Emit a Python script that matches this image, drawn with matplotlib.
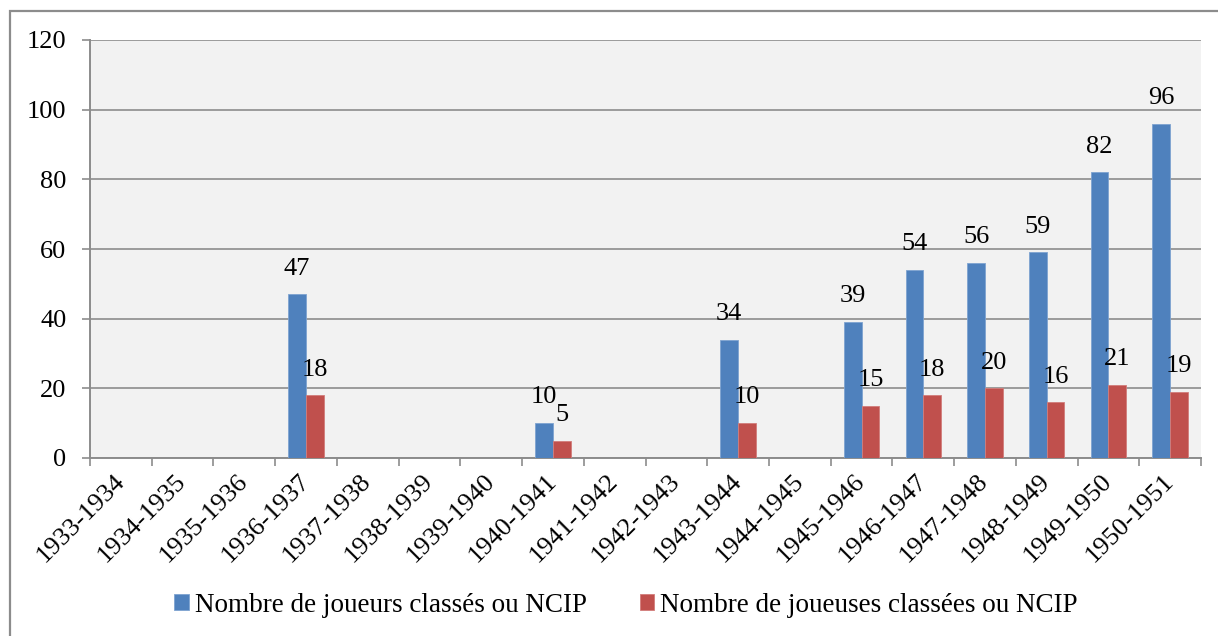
import numpy as np
import matplotlib
matplotlib.use("Agg")
import matplotlib.pyplot as plt
from matplotlib.patches import Rectangle

seasons = ["1933-1934", "1934-1935", "1935-1936", "1936-1937", "1937-1938",
           "1938-1939", "1939-1940", "1940-1941", "1941-1942", "1942-1943",
           "1943-1944", "1944-1945", "1945-1946", "1946-1947", "1947-1948",
           "1948-1949", "1949-1950", "1950-1951"]
joueurs = [np.nan, np.nan, np.nan, 47, np.nan, np.nan, np.nan, 10, np.nan, np.nan,
           34, np.nan, 39, 54, 56, 59, 82, 96]
joueuses = [np.nan, np.nan, np.nan, 18, np.nan, np.nan, np.nan, 5, np.nan, np.nan,
            10, np.nan, 15, 18, 20, 16, 21, 19]
label_joueurs = "Nombre de joueurs classés ou NCIP"
label_joueuses = "Nombre de joueuses classées ou NCIP"
yticks = [0, 20, 40, 60, 80, 100, 120]

plt.rcParams['font.family'] = ['Liberation Serif', 'DejaVu Serif']
W, H = 1218, 636
fig = plt.figure(figsize=(W / 100, H / 100), dpi=100)
fig.patch.set_facecolor('white')

# outer chart border
fig.patches.append(Rectangle((10 / W, -0.05), 1.2, (H - 11) / H + 0.05,
                             transform=fig.transFigure, fill=False,
                             edgecolor='#8c8c8c', linewidth=1.6))

ax = fig.add_axes([90 / W, (H - 458) / H, (1201 - 90) / W, (458 - 40) / H])
ax.set_facecolor('#F2F2F2')

x = np.arange(len(seasons))
bw = 0.287
blue = '#4F81BD'
red = '#C0504D'
b1 = ax.bar(x - bw / 2, joueurs, bw, color=blue, edgecolor='#7ea3d0', linewidth=0.6,
            label=label_joueurs, zorder=3)
b2 = ax.bar(x + bw / 2, joueuses, bw, color=red, edgecolor='#d27d7b', linewidth=0.6,
            label=label_joueuses, zorder=3)

for xs, vals in ((x - bw / 2, joueurs), (x + bw / 2, joueuses)):
    for xi, v in zip(xs, vals):
        if not np.isnan(v):
            ax.annotate(f"{int(v)}", (xi, v), xytext=(0, 18.5), textcoords='offset points',
                        ha='center', va='center', fontsize=19, color='black', zorder=5)

ax.set_xlim(-0.5, len(seasons) - 0.5)
ax.set_ylim(0, 120)
ax.set_yticks(yticks)
ax.set_yticklabels([str(t) for t in yticks], fontsize=19)
ax.yaxis.grid(True, color='#8c8c8c', linewidth=1.2, zorder=1)
ax.set_axisbelow(True)

for s in ['top', 'right']:
    ax.spines[s].set_visible(False)
for s in ['left', 'bottom']:
    ax.spines[s].set_color('#8c8c8c')
    ax.spines[s].set_linewidth(1.4)

ax.tick_params(axis='y', length=6, width=1.2, color='#8c8c8c', pad=11)
ax.set_xticks(np.arange(len(seasons) + 1) - 0.5)
ax.set_xticklabels([])
ax.tick_params(axis='x', which='major', length=6, width=1.2, color='#8c8c8c')
ax.set_xticks(x, minor=True)
ax.set_xticklabels(seasons, minor=True, rotation=45, ha='right', va='center',
                   rotation_mode='anchor', fontsize=19)
ax.tick_params(axis='x', which='minor', length=0, pad=14)

fig.legend(handles=[b1, b2], loc='center', bbox_to_anchor=(626 / W, 1 - 605 / H),
           ncol=2, frameon=False, fontsize=19.5, handlelength=0.55, handleheight=0.55,
           handletextpad=0.2, columnspacing=1.95, borderpad=0)

fig.savefig('out.png', dpi=100)
